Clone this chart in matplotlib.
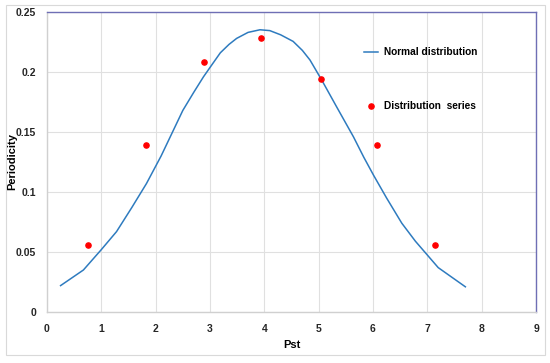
import matplotlib
matplotlib.use("Agg")
import matplotlib.pyplot as plt
from matplotlib.patches import Rectangle

# normal distribution curve
curve_x = [0.25, 0.67, 1.0, 1.28, 1.56, 1.83, 2.1, 2.3, 2.5, 2.7, 2.88, 3.05, 3.19, 3.35, 3.49,
           3.7, 3.92, 4.1, 4.3, 4.53, 4.7, 4.84, 5.06, 5.33, 5.64, 5.83, 6.01, 6.25, 6.53,
           6.78, 6.99, 7.2, 7.45, 7.7]
curve_y = [0.022, 0.035, 0.052, 0.067, 0.087, 0.107, 0.130, 0.149, 0.168, 0.183, 0.196, 0.207,
           0.216, 0.223, 0.228, 0.233, 0.2352, 0.2345, 0.231, 0.2255, 0.218, 0.210, 0.193,
           0.171, 0.146, 0.129, 0.114, 0.095, 0.074, 0.059, 0.048, 0.037, 0.029, 0.021]

# distribution series points
pts_x = [0.75, 1.82, 2.89, 3.94, 5.05, 6.08, 7.15]
pts_y = [0.056, 0.139, 0.208, 0.228, 0.194, 0.139, 0.056]

xticks = list(range(0, 10))
yticks = [0, 0.05, 0.1, 0.15, 0.2, 0.25]
ytick_labels = ["0", "0.05", "0.1", "0.15", "0.2", "0.25"]

plt.rcParams['font.family'] = ['Liberation Sans', 'DejaVu Sans']

fig = plt.figure(figsize=(5.5, 3.63), dpi=100)
fig.patches.append(Rectangle((6 / 550, 1 - 355 / 363), 539 / 550, 350 / 363,
                             transform=fig.transFigure, fill=False,
                             edgecolor='#d9d9d9', lw=0.8))
ax = fig.add_axes([47 / 550, 1 - 312 / 363, 489 / 550, 300 / 363])

ax.plot(curve_x, curve_y, color='#2e7bbf', lw=1.1, label='Normal distribution', zorder=3)
ax.scatter(pts_x, pts_y, color='#ff0000', s=14, label='Distribution  series', zorder=4)

ax.set_xlim(0, 9)
ax.set_ylim(0, 0.25)
ax.set_xticks(xticks)
ax.set_yticks(yticks)
ax.set_yticklabels(ytick_labels)
ax.tick_params(length=0, labelsize=7.5, colors='#262626')
ax.tick_params(axis='y', pad=8)
ax.tick_params(axis='x', pad=9)
for lab in ax.get_xticklabels() + ax.get_yticklabels():
    lab.set_fontweight('bold')
ax.grid(True, color='#e0e0e0', lw=0.8)
ax.set_axisbelow(True)

ax.spines['top'].set_color('#6f6fb5')
ax.spines['right'].set_color('#6f6fb5')
ax.spines['left'].set_color('#d0d0d0')
ax.spines['bottom'].set_color('#d0d0d0')
for s in ax.spines.values():
    s.set_linewidth(1.0)

ax.set_xlabel('Pst', fontsize=8, fontweight='bold', labelpad=4)
ax.set_ylabel('Periodicity', fontsize=8, fontweight='bold')
ax.yaxis.set_label_coords(-0.061, 0.5)

leg = ax.legend(loc='upper left', bbox_to_anchor=(0.63, 0.913), frameon=False,
                handlelength=1.4, handletextpad=0.6, labelspacing=4.3,
                prop={'weight': 'bold', 'size': 7.3})

fig.savefig('out.png', dpi=100)
